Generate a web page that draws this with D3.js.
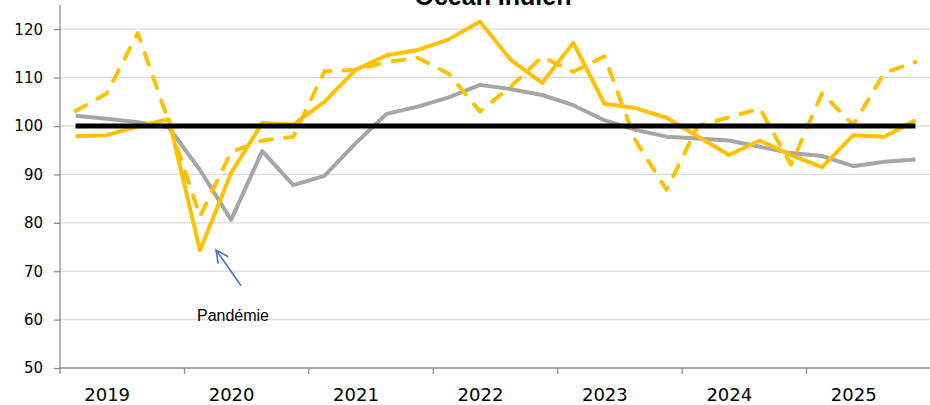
<!DOCTYPE html>
<html>
<head>
<meta charset="utf-8">
<script src="https://cdn.jsdelivr.net/npm/d3@7"></script>
<style>
  html, body { margin: 0; padding: 0; background: #fff; }
  svg { display: block; }
</style>
</head>
<body>
<svg id="chart" width="930" height="405"></svg>
<script>
// ---- Data ----
const years = ["2019", "2020", "2021", "2022", "2023", "2024", "2025"];
const quarters = years.flatMap(y => ["T1", "T2", "T3", "T4"].map(q => y + q));
const yTicks = [50, 60, 70, 80, 90, 100, 110, 120];

const serieSolid = [97.9, 98.1, 99.9, 101.4, 74.3, 90.3, 100.6, 100.3, 105.0, 111.6, 114.6, 115.7, 117.9, 121.6,
                    113.6, 108.9, 117.2, 104.6, 103.7, 101.7, 97.9, 94.0, 97.0, 94.0, 91.5, 98.1, 97.8, 101.2];
const serieDashed = [103.1, 106.7, 119.2, 100.8, 81.3, 94.6, 97.0, 97.8, 111.3, 111.6, 113.2, 114.1, 110.8, 103.0,
                     108.2, 114.3, 111.2, 114.4, 97.0, 86.8, 100.0, 101.8, 103.6, 92.0, 106.8, 100.2, 111.0, 113.2];
const serieGray = [102.1, 101.5, 100.8, 99.7, 90.9, 80.6, 94.8, 87.8, 89.7, 96.4, 102.5, 104.0, 105.9, 108.5,
                   107.6, 106.4, 104.3, 101.2, 99.2, 97.8, 97.4, 97.0, 95.7, 94.4, 93.8, 91.7, 92.6, 93.1];
const serieRef = [100, 100, 100, 100, 100, 100, 100, 100, 100, 100, 100, 100, 100, 100,
                  100, 100, 100, 100, 100, 100, 100, 100, 100, 100, 100, 100, 100, 100];

const title = "Océan Indien";
const annotation = "Pandémie";

// ---- Layout ----
const svg = d3.select("#chart");
const plotL = 60, plotR = 931, plotT = 5, plotB = 368;

const x = d3.scaleBand().domain(quarters).range([plotL, plotR]).padding(0);
const xYear = d3.scaleBand().domain(years).range([plotL, plotR]).padding(0);
const y = d3.scaleLinear().domain([50, 125]).range([plotB, plotT]);
const cx = q => x(q) + x.bandwidth() / 2;
// year labels sit over the second quarter of each year
const xLabel = d3.scaleOrdinal().domain(years).range(years.map(yr => cx(yr + "T2")));

// Gridlines
svg.append("g").selectAll("line")
  .data(yTicks.filter(v => v > 50))
  .join("line")
  .attr("x1", plotL).attr("x2", plotR)
  .attr("y1", d => y(d)).attr("y2", d => y(d))
  .attr("stroke", "#d9d9d9").attr("stroke-width", 1.3);

// Y axis
const yAxis = svg.append("g")
  .attr("transform", `translate(${plotL},0)`)
  .call(d3.axisLeft(y).tickValues(yTicks).tickSize(6).tickPadding(11));
yAxis.select(".domain").attr("stroke", "#8c8c8c").attr("stroke-width", 1.3)
  .attr("d", `M0,${plotT}V${plotB}`);
yAxis.selectAll(".tick line").attr("stroke", "#8c8c8c").attr("stroke-width", 1.3);
yAxis.selectAll(".tick text")
  .attr("font-family", "'DejaVu Sans', sans-serif").attr("font-size", 15).attr("fill", "#000");

// X axis line + year boundary ticks
const xAxis = svg.append("g")
  .attr("transform", `translate(0,${plotB})`);
xAxis.append("line")
  .attr("x1", plotL).attr("x2", plotR).attr("y1", 0).attr("y2", 0)
  .attr("stroke", "#8c8c8c").attr("stroke-width", 1.3);
xAxis.append("g").selectAll("line")
  .data(years.concat(["end"]))
  .join("line")
  .attr("x1", (d, i) => i < years.length ? xYear(d) : plotR)
  .attr("x2", (d, i) => i < years.length ? xYear(d) : plotR)
  .attr("y1", 0).attr("y2", 6)
  .attr("stroke", "#8c8c8c").attr("stroke-width", 1.3);

// Year labels
const xLab = svg.append("g")
  .attr("transform", `translate(0,${plotB})`)
  .call(d3.axisBottom(xLabel).tickSize(0).tickPadding(20));
xLab.select(".domain").remove();
xLab.selectAll(".tick text")
  .attr("dy", null).attr("y", 33)
  .attr("font-family", "'DejaVu Sans', sans-serif").attr("font-size", 18).attr("fill", "#000");

// Lines
const line = d3.line().x((d, i) => cx(quarters[i])).y(d => y(d));

svg.append("path").datum(serieGray)
  .attr("d", line).attr("fill", "none")
  .attr("stroke", "#a5a5a5").attr("stroke-width", 4).attr("stroke-linejoin", "round");

svg.append("path").datum(serieDashed)
  .attr("d", line).attr("fill", "none")
  .attr("stroke", "#ffc000").attr("stroke-width", 4)
  .attr("stroke-dasharray", "12,13").attr("stroke-linecap", "round").attr("stroke-linejoin", "round");

svg.append("path").datum(serieSolid)
  .attr("d", line).attr("fill", "none")
  .attr("stroke", "#ffc000").attr("stroke-width", 4).attr("stroke-linejoin", "round");

svg.append("path").datum(serieRef)
  .attr("d", line).attr("fill", "none")
  .attr("stroke", "#000").attr("stroke-width", 5);

// Title (cropped at top as in the reference)
svg.append("text")
  .attr("x", 493).attr("y", 4.5)
  .attr("text-anchor", "middle")
  .attr("font-family", "'Liberation Sans', Arial, sans-serif")
  .attr("font-weight", "bold").attr("font-size", 25)
  .text(title);

// Annotation arrow
const tipX = cx(quarters[4]) + 16, tipY = y(74.4);
const tailX = cx(quarters[5]) + 10, tailY = y(67.0);
const ang = Math.atan2(tailY - tipY, tailX - tipX);
const hl = 14, ha = 0.45;
svg.append("path")
  .attr("d", `M${tailX},${tailY}L${tipX},${tipY}` +
    `M${tipX + hl * Math.cos(ang + ha)},${tipY + hl * Math.sin(ang + ha)}L${tipX},${tipY}` +
    `L${tipX + hl * Math.cos(ang - ha)},${tipY + hl * Math.sin(ang - ha)}`)
  .attr("fill", "none").attr("stroke", "#4472c4").attr("stroke-width", 1.6);

svg.append("text")
  .attr("x", 233).attr("y", 321)
  .attr("text-anchor", "middle")
  .attr("font-family", "'Liberation Sans', Arial, sans-serif")
  .attr("font-size", 16).attr("fill", "#000")
  .text(annotation);
</script>
</body>
</html>
